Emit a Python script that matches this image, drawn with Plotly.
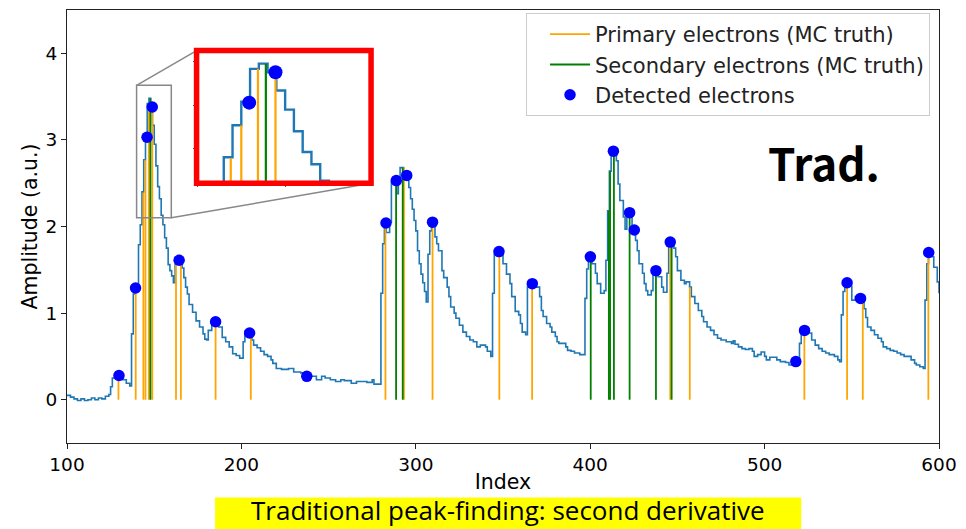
import plotly.graph_objects as go

# ---------------- data ----------------
wave_x = [100, 102, 104, 106, 108, 110, 112, 114, 116, 118, 120, 122, 124, 125, 126, 128, 130, 132, 134, 136,
          137, 138, 139, 140, 141, 142, 143, 144, 145, 146, 147, 148, 149, 150, 151, 152, 153, 154, 155, 156,
          157, 158, 159, 160, 161, 162, 163, 166, 167, 168, 169, 170, 172, 174, 176, 178, 179, 180, 181, 183,
          184, 187, 189, 191, 193, 195, 197, 199, 201, 202, 204, 206, 207, 209, 211, 213, 215, 217, 218, 220,
          223, 227, 230, 234, 237, 240, 243, 246, 248, 251, 254, 257, 259, 263, 266, 269, 272, 275, 276, 280,
          281, 282, 283, 285, 286, 287, 289, 290, 291, 293, 295, 296, 297, 298, 299, 300, 301, 302, 303, 304,
          305, 306, 307, 308, 309, 311, 312, 313, 315, 316, 318, 319, 320, 322, 323, 325, 327, 329, 331, 333,
          335, 337, 340, 341, 343, 344, 345, 347, 350, 352, 354, 355, 357, 359, 360, 361, 363, 364, 366, 369,
          371, 372, 373, 375, 377, 378, 380, 381, 382, 386, 387, 389, 391, 394, 397, 398, 399, 401, 403, 404,
          406, 408, 409, 410, 411, 412, 415, 416, 417, 419, 420, 421, 424, 426, 427, 428, 430, 431, 432, 433,
          435, 436, 437, 439, 441, 442, 444, 445, 446, 448, 449, 450, 452, 454, 455, 457, 458, 460, 462, 464,
          465, 467, 469, 471, 473, 475, 478, 481, 482, 483, 485, 487, 489, 491, 493, 494, 496, 498, 500, 501,
          503, 505, 507, 509, 512, 514, 517, 519, 520, 521, 522, 525, 527, 529, 531, 533, 535, 537, 540, 542,
          543, 544, 545, 546, 549, 550, 552, 555, 557, 558, 559, 561, 563, 565, 567, 568, 570, 572, 574, 576,
          578, 580, 582, 584, 586, 587, 589, 591, 592, 593, 594, 596, 597, 599, 600]
wave_y = [0.05, 0.03, 0.01, -0.01, 0.01, -0.01, 0.00, 0.02, 0.00, 0.02, 0.01, 0.04, 0.06, 0.15, 0.25, 0.32, 0.28, 0.23, 0.19, 0.16,
          0.76, 1.22, 1.30, 1.26, 1.79, 2.02, 2.40, 2.77, 3.04, 3.42, 3.48, 3.38, 3.17, 2.95, 2.70, 2.46, 2.32, 2.13, 2.02, 1.87,
          1.75, 1.56, 1.49, 1.43, 1.35, 1.64, 1.62, 1.52, 1.41, 1.30, 1.22, 1.10, 1.01, 0.91, 0.84, 0.76, 0.70, 0.69, 0.80, 0.88,
          0.91, 0.84, 0.72, 0.67, 0.61, 0.53, 0.51, 0.48, 0.67, 0.79, 0.77, 0.69, 0.63, 0.60, 0.56, 0.52, 0.50, 0.46, 0.42, 0.36,
          0.35, 0.36, 0.32, 0.31, 0.27, 0.27, 0.23, 0.27, 0.25, 0.23, 0.21, 0.23, 0.22, 0.19, 0.21, 0.21, 0.20, 0.23, 0.18, 1.23,
          1.80, 2.07, 1.93, 2.05, 2.51, 2.57, 2.38, 2.57, 2.68, 2.62, 2.59, 2.45, 2.32, 2.20, 2.07, 1.95, 1.72, 1.57, 1.45, 1.35,
          1.25, 1.13, 1.68, 1.95, 2.05, 1.88, 1.80, 1.72, 1.49, 1.41, 1.30, 1.19, 1.07, 1.00, 0.94, 0.86, 0.78, 0.73, 0.69, 0.67,
          0.61, 0.63, 0.61, 0.56, 0.50, 1.23, 1.68, 1.71, 1.57, 1.45, 1.34, 1.19, 1.02, 0.98, 0.88, 0.78, 0.75, 1.30, 1.34, 1.30,
          1.19, 1.03, 0.96, 0.88, 0.84, 0.78, 0.73, 0.67, 0.65, 0.61, 0.57, 0.56, 0.54, 0.52, 1.17, 1.51, 1.65, 1.57, 1.46, 1.34,
          1.23, 1.26, 1.61, 2.18, 2.64, 2.87, 2.76, 2.49, 2.30, 2.11, 1.97, 2.16, 1.95, 1.84, 1.72, 1.57, 1.46, 1.34, 1.26, 1.21,
          1.26, 1.46, 1.49, 1.42, 1.30, 1.24, 1.46, 1.80, 1.82, 1.75, 1.65, 1.49, 1.38, 1.34, 1.36, 1.30, 1.19, 1.11, 1.03, 0.96,
          0.90, 0.84, 0.80, 0.75, 0.71, 0.69, 0.67, 0.65, 0.68, 0.64, 0.61, 0.59, 0.58, 0.59, 0.56, 0.50, 0.52, 0.55, 0.50, 0.46,
          0.49, 0.49, 0.46, 0.44, 0.43, 0.40, 0.44, 0.42, 0.65, 0.77, 0.80, 0.77, 0.69, 0.63, 0.59, 0.56, 0.54, 0.52, 0.50, 0.46,
          0.44, 0.98, 1.25, 1.35, 1.31, 1.15, 1.19, 1.17, 1.05, 0.95, 0.84, 0.80, 0.75, 0.71, 0.67, 0.61, 0.59, 0.57, 0.56, 0.54,
          0.52, 0.50, 0.50, 0.46, 0.42, 0.40, 0.38, 0.36, 1.15, 1.57, 1.70, 1.65, 1.53, 1.36, 1.23]

primary_x = [129.5, 139.4, 143.8, 145.0, 146.9, 148.9, 162.5, 165.3, 185.2, 205.4, 282.6, 293.2, 309.6,
             347.9, 366.7, 445.9, 457.1, 522.8, 547.3, 556.3, 593.9]
primary_h = [0.29, 1.28, 2.39, 2.77, 3.42, 3.38, 1.62, 1.62, 0.90, 0.77, 2.03, 2.68, 2.05,
             1.72, 1.33, 1.80, 1.30, 0.81, 1.34, 1.17, 1.72]

secondary_x = [147.8, 288.7, 292.5, 400.3, 410.7, 411.4, 413.6, 422.6, 437.7, 446.7]
secondary_h = [3.48, 2.53, 2.68, 1.66, 2.18, 2.64, 2.87, 2.16, 1.49, 1.82]

detected_x = [129.8, 139.3, 145.9, 148.9, 164.3, 185.2, 204.7, 237.5, 282.9, 288.8, 294.8, 309.6, 347.7,
              366.8, 400.1, 413.3, 422.6, 425.3, 437.7, 445.9, 517.9, 522.9, 547.3, 555.0, 594.1]
detected_y = [0.28, 1.29, 3.03, 3.38, 1.61, 0.90, 0.77, 0.27, 2.04, 2.53, 2.59, 2.05, 1.71,
              1.34, 1.65, 2.87, 2.16, 1.96, 1.49, 1.82, 0.44, 0.80, 1.35, 1.17, 1.70]

x_ticks = [100, 200, 300, 400, 500, 600]
y_ticks = [0, 1, 2, 3, 4]

# ---------------- styling ----------------
X_RANGE = [100, 600]
Y_RANGE = [-0.5, 4.5]
INSET_X = [139.9, 159.8]
INSET_Y = [2.10, 3.63]
INSET_DOM_X = [0.1486, 0.3487]
INSET_DOM_Y = [0.5998, 0.9062]

WAVE_C = "#1f77b4"
PRIM_C = "#ffa500"
SEC_C = "#008000"
DOT_C = "#0000ff"
FONT = "DejaVu Sans"


def stems(xs, hs):
    sx, sy = [], []
    for x, h in zip(xs, hs):
        sx += [x, x, None]
        sy += [0, h, None]
    return sx, sy


px_, py_ = stems(primary_x, primary_h)
sx_, sy_ = stems(secondary_x, secondary_h)

fig = go.Figure()
for axx, axy, lw, show in [("x", "y", 1.6, True), ("x2", "y2", 2.4, False)]:
    fig.add_trace(go.Scatter(x=wave_x, y=wave_y, mode="lines", line=dict(color=WAVE_C, width=lw, shape="hv"),
                             showlegend=False, xaxis=axx, yaxis=axy, hoverinfo="skip"))
    fig.add_trace(go.Scatter(x=px_, y=py_, mode="lines", line=dict(color=PRIM_C, width=1.8 if show else 2.2),
                             name="Primary electrons (MC truth)", legendgroup="p", showlegend=show,
                             xaxis=axx, yaxis=axy))
    fig.add_trace(go.Scatter(x=sx_, y=sy_, mode="lines", line=dict(color=SEC_C, width=1.8 if show else 2.2),
                             name="Secondary electrons (MC truth)", legendgroup="s", showlegend=show,
                             xaxis=axx, yaxis=axy))
    fig.add_trace(go.Scatter(x=detected_x, y=detected_y, mode="markers",
                             marker=dict(color=DOT_C, size=11.5 if show else 14, line=dict(width=0)),
                             name="Detected electrons", legendgroup="d", showlegend=show, xaxis=axx, yaxis=axy))


def to_paper(x, y):
    return ((x - X_RANGE[0]) / (X_RANGE[1] - X_RANGE[0]), (y - Y_RANGE[0]) / (Y_RANGE[1] - Y_RANGE[0]))


# zoom-region rectangle and connectors
fig.add_shape(type="rect", xref="x", yref="y", x0=INSET_X[0], x1=INSET_X[1], y0=INSET_Y[0], y1=INSET_Y[1],
              line=dict(color="#888888", width=1.5))
p_tl = to_paper(INSET_X[0], INSET_Y[1])
p_br = to_paper(INSET_X[1], INSET_Y[0])
fig.add_shape(type="line", xref="paper", yref="paper", x0=p_tl[0], y0=p_tl[1], x1=INSET_DOM_X[0], y1=INSET_DOM_Y[1],
              line=dict(color="#888888", width=1.5))
fig.add_shape(type="line", xref="paper", yref="paper", x0=p_br[0], y0=p_br[1], x1=INSET_DOM_X[1], y1=INSET_DOM_Y[0],
              line=dict(color="#888888", width=1.5))
# red frame around inset
fig.add_shape(type="rect", xref="paper", yref="paper", x0=INSET_DOM_X[0], x1=INSET_DOM_X[1],
              y0=INSET_DOM_Y[0], y1=INSET_DOM_Y[1], line=dict(color="#ff0000", width=5.5))

# yellow highlight behind the caption
fig.add_shape(type="rect", xref="paper", yref="paper", x0=0.1698, x1=0.842, y0=-0.215, y1=-0.126,
              fillcolor="#ffff00", line=dict(width=0), layer="below")

fig.add_annotation(text="<b>Trad.</b>", xref="paper", yref="paper", x=0.868, y=0.650,
                   xanchor="center", yanchor="middle", showarrow=False,
                   font=dict(family="Noto Sans CJK SC", size=44, color="black"))
fig.add_annotation(text="Traditional peak-finding: second derivative", xref="paper", yref="paper",
                   x=0.506, y=-0.1555, xanchor="center", yanchor="middle", showarrow=False,
                   font=dict(family="Open Sans", size=26, color="black"))

axis_common = dict(showline=True, mirror=True, linecolor="#222222", linewidth=1.2, showgrid=False, zeroline=False,
                   ticks="outside", ticklen=5, tickcolor="#222222", tickfont=dict(family=FONT, size=18.5, color="black"))

fig.update_layout(
    width=966, height=529,
    margin=dict(l=67, r=24, t=9, b=86),
    paper_bgcolor="white", plot_bgcolor="white",
    font=dict(family=FONT, color="black"),
    xaxis=dict(range=X_RANGE, tickvals=x_ticks, domain=[0, 1],
               title=dict(text="Index", font=dict(family=FONT, size=20.5), standoff=0), **axis_common),
    yaxis=dict(range=Y_RANGE, tickvals=y_ticks, domain=[0, 1],
               title=dict(text="Amplitude (a.u.)", font=dict(family=FONT, size=20.5), standoff=2), **axis_common),
    xaxis2=dict(range=INSET_X, domain=INSET_DOM_X, anchor="y2", showline=False, showgrid=False, zeroline=False,
                tickvals=[140, 150, 160], showticklabels=False, ticks="outside", ticklen=3, tickcolor="#555555"),
    yaxis2=dict(range=INSET_Y, domain=INSET_DOM_Y, anchor="x2", showline=False, showgrid=False, zeroline=False,
                tickvals=[2.5, 3.0, 3.5], showticklabels=False, ticks="outside", ticklen=3, tickcolor="#555555"),
    legend=dict(x=0.5264, y=0.993, xanchor="left", yanchor="top", bgcolor="rgba(255,255,255,0.85)",
                bordercolor="#cccccc", borderwidth=1, font=dict(family=FONT, size=21, color="#222222"),
                tracegroupgap=0, itemwidth=40, indentation=18),
    showlegend=True,
)

fig.write_html("out.html")
